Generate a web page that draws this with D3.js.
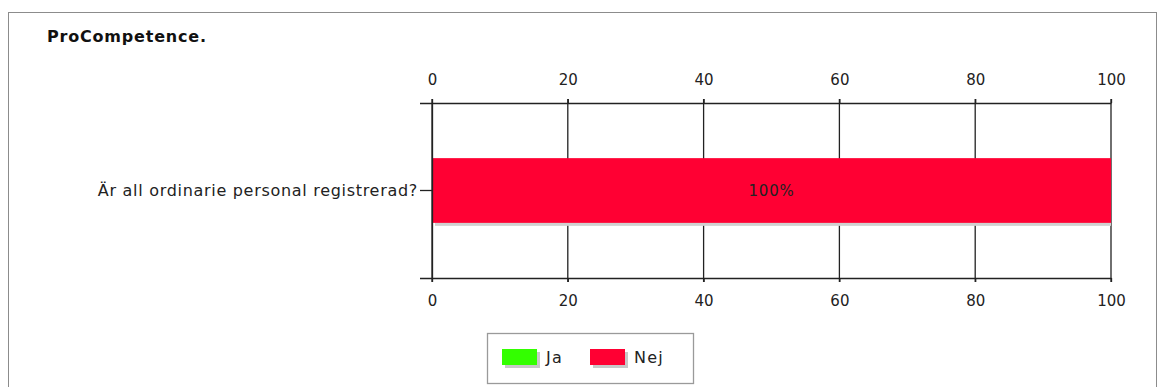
<!DOCTYPE html>
<html>
<head>
<meta charset="utf-8">
<script src="https://cdn.jsdelivr.net/npm/d3@7"></script>
<style>
body { margin: 0; background: #fff; }
svg { display: block; font-family: "DejaVu Sans", Verdana, sans-serif; }
</style>
</head>
<body>
<svg width="1160" height="387"></svg>
<script>
var title = "ProCompetence.";
var categories = ["Är all ordinarie personal registrerad?"];
var seriesNames = ["Ja", "Nej"];
var seriesColors = ["#33ff00", "#ff0033"];
var jaValues = [0];
var nejValues = [100];
var ticks = [0, 20, 40, 60, 80, 100];

var svg = d3.select("svg"),
  margin = { top: 103, right: 49, bottom: 109, left: 432 },
  width = +svg.attr("width") - margin.left - margin.right,
  height = +svg.attr("height") - margin.top - margin.bottom;

// outer frame
svg.append("rect")
  .attr("x", 8.5).attr("y", 12.5)
  .attr("width", 1148).attr("height", 390)
  .attr("fill", "none").attr("stroke", "#8c8c8c");

svg.append("text")
  .attr("x", 47).attr("y", 42)
  .attr("font-size", 16).attr("font-weight", "bold")
  .attr("letter-spacing", 0.8)
  .attr("fill", "#111")
  .text(title);

var x = d3.scaleLinear().domain([0, 100]).range([0, width]);
var y = d3.scaleBand().domain(categories).range([0, height]).padding(0.46);

var g = svg.append("g").attr("transform", "translate(" + margin.left + "," + margin.top + ")");

// grid lines
g.selectAll(".grid")
  .data(ticks)
  .enter().append("line")
  .attr("x1", function(d) { return x(d); })
  .attr("x2", function(d) { return x(d); })
  .attr("y1", -4).attr("y2", height + 4)
  .attr("stroke", "#222").attr("stroke-width", 1.3);

var data = categories.map(function(c, i) {
  return { cat: c, ja: jaValues[i], nej: nejValues[i] };
});

var shadow = g.append("g");
var bars = g.append("g");
data.forEach(function(d) {
  var x0 = 0;
  [d.ja, d.nej].forEach(function(v, s) {
    if (v <= 0) return;
    shadow.append("rect")
      .attr("x", x(x0) + 3).attr("y", y(d.cat) + 3)
      .attr("width", x(x0 + v) - x(x0) - 3).attr("height", y.bandwidth())
      .attr("fill", "#d0d0d0");
    bars.append("rect")
      .attr("x", x(x0) + 1).attr("y", y(d.cat))
      .attr("width", x(x0 + v) - x(x0) - 1).attr("height", y.bandwidth())
      .attr("fill", seriesColors[s]);
    bars.append("text")
      .attr("x", x(x0 + v / 2)).attr("y", y(d.cat) + y.bandwidth() / 2)
      .attr("dy", "0.35em").attr("text-anchor", "middle")
      .attr("font-size", 15).attr("letter-spacing", 0.8).attr("fill", "#222")
      .text(v + "%");
    x0 += v;
  });
});

// axes
var axisStyle = function(sel) {
  sel.selectAll("path").attr("stroke", "#222").attr("stroke-width", 1.3);
  sel.selectAll("line").attr("stroke", "#222").attr("stroke-width", 1.3);
  sel.selectAll("text").attr("font-size", 15).attr("fill", "#222")
    .attr("font-family", "DejaVu Sans, Verdana, sans-serif");
};

g.append("g")
  .call(d3.axisTop(x).tickValues(ticks).tickSize(4).tickSizeOuter(0).tickPadding(14))
  .call(axisStyle);

g.append("g")
  .attr("transform", "translate(0," + height + ")")
  .call(d3.axisBottom(x).tickValues(ticks).tickSize(4).tickSizeOuter(0).tickPadding(13))
  .call(axisStyle);

g.append("g")
  .call(d3.axisLeft(y).tickSize(12).tickSizeOuter(12).tickPadding(2))
  .call(axisStyle)
  .selectAll("text").attr("font-size", 16).attr("letter-spacing", 0.7);

// legend
var legend = svg.append("g").attr("transform", "translate(487,333)");
legend.append("rect")
  .attr("x", 0.5).attr("y", 0.5).attr("width", 206).attr("height", 50)
  .attr("fill", "#fff").attr("stroke", "#9a9a9a").attr("stroke-width", 1.3);
seriesNames.forEach(function(n, i) {
  var lx = 15 + i * 88;
  legend.append("rect")
    .attr("x", lx + 3).attr("y", 19).attr("width", 35).attr("height", 16)
    .attr("fill", "#c8c8c8");
  legend.append("rect")
    .attr("x", lx).attr("y", 16).attr("width", 35).attr("height", 16)
    .attr("fill", seriesColors[i]);
  legend.append("text")
    .attr("x", lx + 44).attr("y", 24).attr("dy", "0.35em")
    .attr("font-size", 16).attr("letter-spacing", 1.2).attr("fill", "#222")
    .text(n);
});
</script>
</body>
</html>
